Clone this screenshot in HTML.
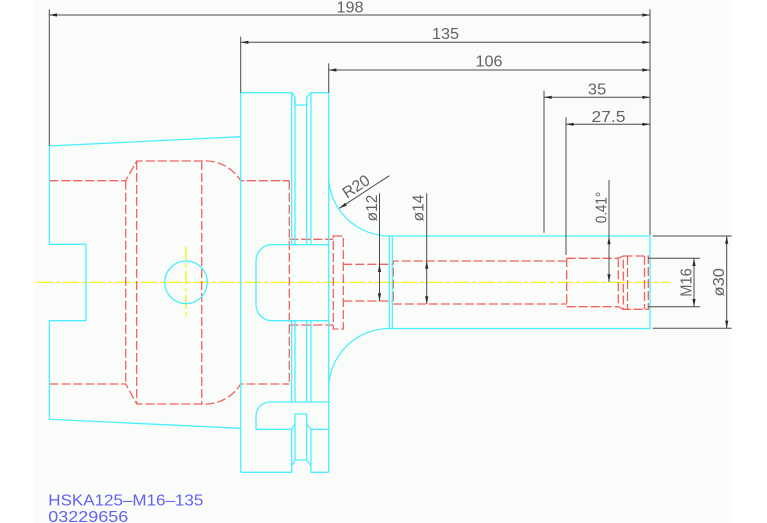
<!DOCTYPE html>
<html><head><meta charset="utf-8"><style>
html,body{margin:0;padding:0;background:#fff;width:767px;height:523px;overflow:hidden}
svg{display:block}
text{font-family:"Liberation Sans",sans-serif}
</style></head><body>
<svg width="767" height="523" viewBox="0 0 767 523" xmlns="http://www.w3.org/2000/svg">
<rect x="35" y="0" width="697" height="523" fill="#fafcfa"/>

<!-- yellow centerlines -->
<g stroke="#f2f200" stroke-width="1.2" fill="none">
<line x1="37" y1="282.3" x2="669.3" y2="282.3" stroke-dasharray="16 3 4 3"/>
<line x1="186" y1="246.7" x2="186" y2="319" stroke-dasharray="14 3 4 3"/>
</g>

<!-- red hidden lines -->
<g stroke="#ef6262" fill="none" stroke-width="1.3" stroke-dasharray="9 3">
<path d="M49.3,180.7 H125.7 L136.7,161 H201.7 A42,42 0 0 1 240.7,180.7 H289.3"/>
<path d="M49.3,384 H125.7 L136.7,404 H201.7 A42,42 0 0 0 240.7,384 H289.3"/>
<line x1="125.7" y1="180.7" x2="125.7" y2="384"/>
<line x1="136.7" y1="161" x2="136.7" y2="404"/>
<line x1="201.7" y1="161" x2="201.7" y2="404"/>
<line x1="289.3" y1="180.7" x2="289.3" y2="384"/>
<path d="M289.3,239.3 H333.3 M289.3,325 H333.3"/>
<rect x="333.3" y="236" width="10" height="93"/>
<path d="M343.3,264.3 H393.3 M343.3,301 H393.3"/>
<path d="M566.7,261 H393.3 V304 H566.7"/>
<path d="M566.7,258.3 H618.3 L623.3,256 M566.7,306.7 H618.3 L623.3,309.3 M566.7,258.3 V306.7 M618.3,258.3 V306.7"/>
<rect x="623.3" y="256" width="25" height="53.3"/>
<path d="M627.5,256 V309.3 M644.5,256 V309.3"/>
</g>

<!-- cyan outline -->
<g stroke="#4deeff" fill="none" stroke-width="1.3">
<polyline points="240.7,136.7 49.3,146 49.3,244.3 86,244.3 86,320.7 49.3,320.7 49.3,419.3 240.7,428.3"/>
<line x1="240.7" y1="92.7" x2="240.7" y2="472.3"/>
<polyline points="240.7,92.7 291.7,92.7 295,97.3 295,105 306.7,105 306.7,97.3 311,92.7 328.7,92.7 328.7,472.3"/>
<path d="M291.7,92.7 V244.7 M295,97.3 V244.7 M306.7,97.3 V244.7 M311,92.7 V244.7"/>
<path d="M291.7,320.7 V402 M295,320.7 V402 M306.7,320.7 V402 M311,320.7 V402"/>
<path d="M328.7,244.7 H272 A16,16 0 0 0 256,260.7 V304.7 A16,16 0 0 0 272,320.7 H328.7"/>
<path d="M328.7,402 H270 A14,14 0 0 0 256,416 V429.3 H291.7 L295,424 V414 H306.7 V424 L311,429.3 H328.7"/>
<path d="M240.7,472.3 H291.7 V429.3 M311,429.3 V472.3 H328.7"/>
<path d="M295,424 V460 L291.7,466 M306.7,424 V460 L311,466 M295,460 H306.7"/>
<path d="M328.7,176 A61,60 0 0 0 389.3,236"/>
<path d="M328.7,388.5 A61,60 0 0 1 389.3,328.5"/>
<path d="M389.3,236 H650 V328.5 H389.3 Z"/>
<line x1="392.3" y1="236" x2="392.3" y2="328.5"/>
<circle cx="186" cy="282.3" r="21.3"/>
</g>

<!-- dimension lines -->
<g stroke="#4a4a4a" stroke-width="1" fill="none">
<line x1="49.3" y1="15" x2="650" y2="15"/>
<line x1="240.7" y1="42.3" x2="650" y2="42.3"/>
<line x1="328.7" y1="70" x2="650" y2="70"/>
<line x1="544" y1="97.3" x2="650" y2="97.3"/>
<line x1="566" y1="124.3" x2="650" y2="124.3"/>
<line x1="49.3" y1="9.3" x2="49.3" y2="146"/>
<line x1="240.7" y1="36.7" x2="240.7" y2="92.7"/>
<line x1="328.7" y1="63.3" x2="328.7" y2="92.7"/>
<line x1="544" y1="90.7" x2="544" y2="232.7"/>
<line x1="566" y1="117.3" x2="566" y2="255"/>
<line x1="650" y1="9.3" x2="650" y2="235"/>
<line x1="339.3" y1="208.3" x2="389.3" y2="175.7"/>
<line x1="379.5" y1="193.3" x2="379.5" y2="301"/>
<line x1="426.7" y1="193.3" x2="426.7" y2="304"/>
<line x1="609" y1="180" x2="609" y2="282"/>
<line x1="648" y1="258.3" x2="700" y2="258.3"/>
<line x1="648" y1="306.7" x2="700" y2="306.7"/>
<line x1="694" y1="258.3" x2="694" y2="306.7"/>
<line x1="652.7" y1="236" x2="731.7" y2="236"/>
<line x1="652.7" y1="328.3" x2="731.7" y2="328.3"/>
<line x1="726.7" y1="236" x2="726.7" y2="328.3"/>
</g>

<!-- arrowheads -->
<g fill="#2a2a2a">
<polygon points="49.3,15 57,13.4 57,16.6"/><polygon points="650,15 642.3,13.4 642.3,16.6"/>
<polygon points="240.7,42.3 248.4,40.7 248.4,43.9"/><polygon points="650,42.3 642.3,40.7 642.3,43.9"/>
<polygon points="328.7,70 336.4,68.4 336.4,71.6"/><polygon points="650,70 642.3,68.4 642.3,71.6"/>
<polygon points="544,97.3 551.7,95.7 551.7,98.9"/><polygon points="650,97.3 642.3,95.7 642.3,98.9"/>
<polygon points="566,124.3 573.7,122.7 573.7,125.9"/><polygon points="650,124.3 642.3,122.7 642.3,125.9"/>
<polygon points="339.3,208.3 345.1,202.9 346.8,205.6"/>
<polygon points="379.5,264.3 377.9,272 381.1,272"/><polygon points="379.5,301 377.9,293.3 381.1,293.3"/>
<polygon points="426.7,261 425.1,268.7 428.3,268.7"/><polygon points="426.7,304 425.1,296.3 428.3,296.3"/>
<polygon points="609,236.5 607.4,244.2 610.6,244.2"/><polygon points="609,282 607.4,274.3 610.6,274.3"/>
<polygon points="694,258.3 692.4,266 695.6,266"/><polygon points="694,306.7 692.4,299 695.6,299"/>
<polygon points="726.7,236 725.1,243.7 728.3,243.7"/><polygon points="726.7,328.3 725.1,320.6 728.3,320.6"/>
</g>

<!-- dimension text -->
<g fill="#636363" font-size="16" text-anchor="middle">
<text x="350" y="12.3" textLength="27" lengthAdjust="spacingAndGlyphs">198</text>
<text x="445.5" y="39" textLength="27" lengthAdjust="spacingAndGlyphs">135</text>
<text x="489" y="66.7" textLength="27" lengthAdjust="spacingAndGlyphs">106</text>
<text x="597" y="94.3" textLength="18.5" lengthAdjust="spacingAndGlyphs">35</text>
<text x="608.5" y="122" textLength="34" lengthAdjust="spacingAndGlyphs">27.5</text>
<text transform="translate(359,191) rotate(-33)" x="0" y="0" textLength="29" lengthAdjust="spacingAndGlyphs">R20</text>
<text transform="translate(377,208) rotate(-90)" x="0" y="0" textLength="26.7" lengthAdjust="spacingAndGlyphs">ø12</text>
<text transform="translate(423.5,208) rotate(-90)" x="0" y="0" textLength="26.7" lengthAdjust="spacingAndGlyphs">ø14</text>
<text transform="translate(606.5,207.5) rotate(-90)" x="0" y="0" textLength="31.6" lengthAdjust="spacingAndGlyphs">0.41°</text>
<text transform="translate(691.7,282.5) rotate(-90)" x="0" y="0" textLength="28.4" lengthAdjust="spacingAndGlyphs">M16</text>
<text transform="translate(724,282.3) rotate(-90)" x="0" y="0" textLength="28.4" lengthAdjust="spacingAndGlyphs">ø30</text>
</g>

<!-- title text -->
<g fill="#6262f2" font-size="15.5">
<text x="48.3" y="505.3" textLength="155" lengthAdjust="spacingAndGlyphs">HSKA125–M16–135</text>
<text x="48.3" y="522" textLength="80" lengthAdjust="spacingAndGlyphs">03229656</text>
</g>
</svg>
</body></html>
